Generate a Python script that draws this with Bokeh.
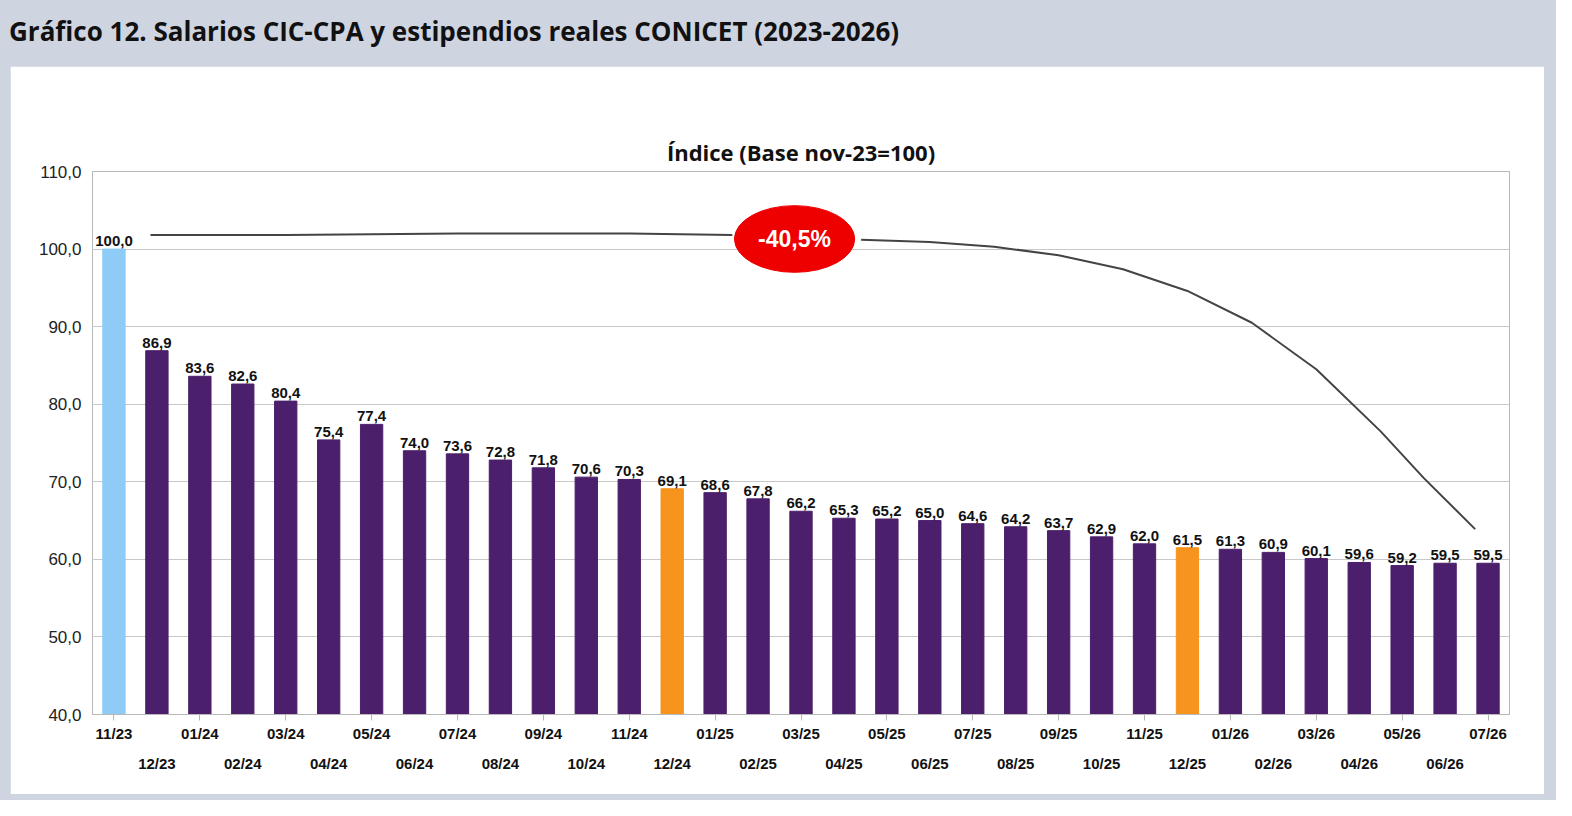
from bokeh.plotting import figure
from bokeh.models import Div, FixedTicker, LinearAxis, Range1d, ColumnDataSource
from bokeh.layouts import column
from bokeh.embed import file_html
from bokeh.resources import INLINE
from bokeh.core.properties import value

months = ["11/23","12/23","01/24","02/24","03/24","04/24","05/24","06/24","07/24","08/24","09/24","10/24",
          "11/24","12/24","01/25","02/25","03/25","04/25","05/25","06/25","07/25","08/25","09/25","10/25",
          "11/25","12/25","01/26","02/26","03/26","04/26","05/26","06/26","07/26"]
values = [100.0,86.9,83.6,82.6,80.4,75.4,77.4,74.0,73.6,72.8,71.8,70.6,70.3,69.1,68.6,67.8,66.2,65.3,
          65.2,65.0,64.6,64.2,63.7,62.9,62.0,61.5,61.3,60.9,60.1,59.6,59.2,59.5,59.5]
highlight_blue = ["11/23"]
highlight_orange = ["12/24","12/25"]
y_ticks = [40,50,60,70,80,90,100,110]
# annotation curve
curve_x = [0.85,4,8,12,14.4]
curve_y = [101.8,101.8,102.0,102.0,101.8]
curve2_x = [17.4,19,20.5,22,23.5,25,26.5,28,29.5,30.5,31.7]
curve2_y = [101.2,100.9,100.3,99.2,97.4,94.6,90.5,84.5,76.5,70.5,63.9]
badge = (15.85, 101.3, "-40,5%")

PURPLE = "#4b1f6b"; BLUE = "#8ecbf7"; ORANGE = "#f7941d"
colors = [BLUE if m in highlight_blue else ORANGE if m in highlight_orange else PURPLE for m in months]
xs = list(range(len(months)))
labels = [f"{v:.1f}".replace(".", ",") for v in values]
src = ColumnDataSource(dict(x=xs, top=values, color=colors, lab=labels))

p = figure(width=1534, height=728, output_backend="svg", toolbar_location=None,
           x_range=Range1d(-0.5, 32.5), y_range=Range1d(40, 110),
           min_border_left=82, min_border_right=35, min_border_top=105, min_border_bottom=80,
           title="Índice (Base nov-23=100)", x_axis_location=None)
p.title.align = "center"; p.title.text_font = "Open Sans"; p.title.text_font_size = "22px"
p.title.text_font_style = "bold"; p.title.text_color = "#111111"; p.title.offset = 0
p.border_fill_color = "white"; p.background_fill_color = "white"
p.outline_line_color = "#b8b8b8"
p.xgrid.grid_line_color = None
p.ygrid.grid_line_color = "#c8c8c8"

p.vbar(x="x", top="top", bottom=40, width=0.52, color="color", source=src)
p.text(x="x", y="top", text="lab", source=src, text_align="center", text_baseline="bottom",
       y_offset=-3, text_font=value("Liberation Sans"), text_font_size="15px",
       text_font_style="bold", text_color="#111111")

p.line(curve_x, curve_y, line_color="#444444", line_width=2)
p.line(curve2_x, curve2_y, line_color="#444444", line_width=2)
p.ellipse(x=[badge[0]], y=[badge[1]], width=2.8, height=8.6, color="#ee0000")
p.text(x=[badge[0]], y=[badge[1]], text=[badge[2]], text_align="center", text_baseline="middle",
       text_font=value("Liberation Sans"), text_font_size="23px", text_font_style="bold", text_color="white")

ya = p.yaxis[0]
ya.ticker = FixedTicker(ticks=y_ticks)
ya.major_label_overrides = {t: f"{t:.1f}".replace(".", ",") for t in y_ticks}
ya.major_label_text_font = "Liberation Sans"; ya.major_label_text_font_size = "17px"
ya.major_label_text_color = "#222222"
ya.axis_line_color = None; ya.major_tick_line_color = None; ya.minor_tick_line_color = None

even = [i for i in xs if i % 2 == 0]; odd = [i for i in xs if i % 2 == 1]
ax1 = LinearAxis(ticker=FixedTicker(ticks=even), major_label_overrides={i: months[i] for i in even})
ax2 = LinearAxis(ticker=FixedTicker(ticks=odd), major_label_overrides={i: months[i] for i in odd})
for ax in (ax1, ax2):
    ax.major_label_text_font = "Liberation Sans"; ax.major_label_text_font_size = "15px"
    ax.major_label_text_font_style = "bold"; ax.major_label_text_color = "#111111"
    ax.minor_tick_line_color = None
    ax.major_label_standoff = 4
ax1.axis_line_color = "#b8b8b8"; ax1.major_tick_line_color = "#b8b8b8"
ax1.major_tick_out = 6; ax1.major_tick_in = 0
ax2.axis_line_color = None; ax2.major_tick_line_color = None
p.add_layout(ax1, "below"); p.add_layout(ax2, "below")

title = Div(text="Gráfico 12. Salarios CIC-CPA y estipendios reales CONICET (2023-2026)",
            styles={"font-family": "Open Sans", "font-size": "26px", "font-weight": "bold",
                    "color": "#111111", "padding": "8px 0 0 4px"}, width=1500, height=56)
fig_wrap = column(p, styles={"margin-left": "10px"})
layout = column(title, fig_wrap, width=1556, height=800,
                styles={"background-color": "#cfd4e1"}, spacing=0)

open("out.html", "w").write(file_html(layout, INLINE))
